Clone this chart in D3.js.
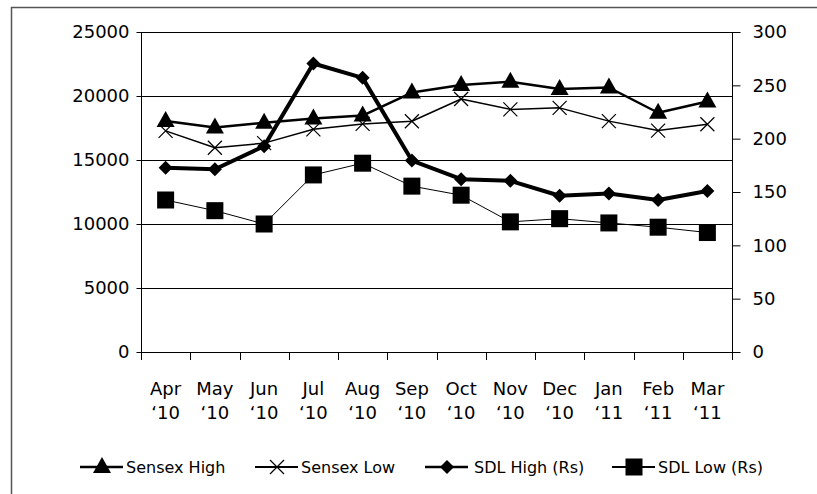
<!DOCTYPE html>
<html><head><meta charset="utf-8">
<script src="https://cdn.jsdelivr.net/npm/d3@7"></script>
<style>body{margin:0;background:#fff}svg{display:block}text{font-family:"DejaVu Sans",Verdana,sans-serif;fill:#000}</style>
</head><body><svg id="c" width="817" height="494"></svg>
<script>
const months = ["Apr","May","Jun","Jul","Aug","Sep","Oct","Nov","Dec","Jan","Feb","Mar"];
const years = ["‘10","‘10","‘10","‘10","‘10","‘10","‘10","‘10","‘10","‘11","‘11","‘11"];
const sensexHigh = [18048,17537,17919,18238,18475,20268,20854,21109,20552,20664,18691,19575];
const sensexLow = [17277,15960,16318,17395,17820,18027,19769,18954,19074,18038,17296,17792];
const sdlHigh = [172.8,171.3,193,270.5,257,179.5,162,160.5,146.5,148.5,142.5,151];
const sdlLow = [142.5,132.5,120,166,177,155.5,147,122,125,121,117,112];
const leftTicks = [0,5000,10000,15000,20000,25000];
const rightTicks = [0,50,100,150,200,250,300];
const legendNames = ["Sensex High","Sensex Low","SDL High (Rs)","SDL Low (Rs)"];

const svg = d3.select("#c");
const L=141, R=732, T=32, B=352;
const x = d3.scaleBand().domain(d3.range(12)).range([L,R]);
const yL = d3.scaleLinear().domain([0,25000]).range([B,T]);
const yR = d3.scaleLinear().domain([0,300]).range([B,T]);

// outer frame
svg.append("path").attr("d",`M11.5,494 V7.5 H817`).attr("fill","none").attr("stroke","#555").attr("stroke-width",1.5);

// gridlines
svg.append("g").selectAll("line").data(leftTicks.slice(1)).join("line")
  .attr("x1",L).attr("x2",R).attr("y1",d=>Math.round(yL(d))+0.5).attr("y2",d=>Math.round(yL(d))+0.5)
  .attr("stroke","#000").attr("stroke-width",1);

const fs = 18;
// left axis
const gl = svg.append("g").attr("transform",`translate(${L+0.5},0)`)
  .call(d3.axisLeft(yL).tickValues(leftTicks).tickSize(5).tickPadding(7).tickFormat(d=>d));
gl.select(".domain").attr("stroke","#000").attr("d",`M0,${T}V${B}`);
gl.selectAll("text").style("font-size",fs+"px").attr("font-family",null);
// right axis
const gr = svg.append("g").attr("transform",`translate(${R+0.5},0)`)
  .call(d3.axisRight(yR).tickValues(rightTicks).tickSize(8).tickPadding(12).tickFormat(d=>d));
gr.select(".domain").attr("stroke","#000").attr("d",`M0,${T}V${B}`);
gr.selectAll("text").style("font-size",fs+"px").attr("font-family",null);
// bottom axis
const boundaries = d3.range(13).map(i=>L+i*x.step());
const gb = svg.append("g");
gb.append("line").attr("x1",L).attr("x2",R).attr("y1",B+0.5).attr("y2",B+0.5).attr("stroke","#000");
gb.selectAll(".tk").data(boundaries).join("line").attr("class","tk")
  .attr("x1",d=>Math.round(d)+0.5).attr("x2",d=>Math.round(d)+0.5).attr("y1",B).attr("y2",B+8).attr("stroke","#000");
gb.selectAll(".m").data(months).join("text").attr("class","m")
  .attr("x",(d,i)=>x(i)+x.bandwidth()/2).attr("y",395).attr("text-anchor","middle").style("font-size",fs+"px").text(d=>d);
gb.selectAll(".yr").data(years).join("text").attr("class","yr")
  .attr("x",(d,i)=>x(i)+x.bandwidth()/2).attr("y",419).attr("text-anchor","middle").style("font-size",fs+"px").text(d=>d);

const cx = i=>x(i)+x.bandwidth()/2;
const series = [
  {vals:sensexHigh, y:yL, w:2.5, m:"tri"},
  {vals:sensexLow, y:yL, w:1.5, m:"x"},
  {vals:sdlHigh, y:yR, w:4, m:"dia"},
  {vals:sdlLow, y:yR, w:1, m:"sq"},
];
function marker(g, type){
  if(type==="tri") g.append("path").attr("d","M0,-10 L9,6 L-9,6 Z").attr("fill","#000");
  if(type==="x") g.append("path").attr("d","M-7,-7 L7,7 M-7,7 L7,-7").attr("stroke","#000").attr("stroke-width",1.2).attr("fill","none");
  if(type==="dia") g.append("path").attr("d","M0,-7 L7,0 L0,7 L-7,0 Z").attr("fill","#000");
  if(type==="sq") g.append("rect").attr("x",-8.5).attr("y",-8.5).attr("width",17).attr("height",17).attr("fill","#000");
}
series.forEach(s=>{
  const line = d3.line().x((d,i)=>cx(i)).y(d=>s.y(d));
  svg.append("path").datum(s.vals).attr("d",line).attr("fill","none").attr("stroke","#000").attr("stroke-width",s.w).attr("stroke-linejoin","round");
});
series.forEach(s=>{
  s.vals.forEach((v,i)=>{
    const g = svg.append("g").attr("transform",`translate(${cx(i)},${s.y(v)})`);
    marker(g,s.m);
  });
});

// legend
const legX = [80,255,425,612];
const legY = 467;
legendNames.forEach((n,k)=>{
  const g = svg.append("g").attr("transform",`translate(${legX[k]},${legY})`);
  g.append("line").attr("x1",0).attr("x2",43).attr("y1",0).attr("y2",0).attr("stroke","#000").attr("stroke-width",series[k].w<2?2:Math.min(series[k].w,2.5));
  const mg = g.append("g").attr("transform","translate(22,0)");
  marker(mg, series[k].m);
  g.append("text").attr("x",k===3?46:(k===2?49:46)).attr("y",6).style("font-size","16px").text(n);
});
</script></body></html>
